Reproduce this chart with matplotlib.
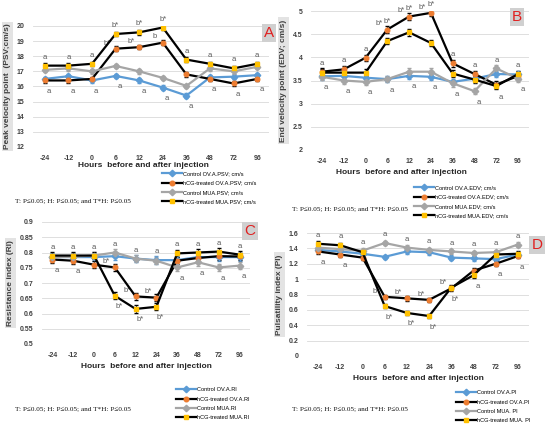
import matplotlib
matplotlib.use("Agg")
from matplotlib import pyplot as plt
from matplotlib.lines import Line2D

plt.rcParams['font.family'] = ['Liberation Sans', 'DejaVu Sans']

hours = ['-24', '-12', '0', '6', '12', '24', '36', '48', '72', '96']

# Panel A - PSV (cm/s)
psv_ctrl_ova = [16.5, 16.68, 16.4, 16.7, 16.4, 15.93, 15.4, 16.6, 16.65, 16.75]
psv_hcg_ova = [16.4, 16.4, 16.5, 18.5, 18.6, 18.9, 16.8, 16.5, 16.2, 16.5]
psv_ctrl_mua = [17.1, 17.2, 17.0, 17.36, 17.0, 16.57, 16.04, 17.2, 17.0, 17.3]
psv_hcg_mua = [17.38, 17.38, 17.5, 19.47, 19.58, 19.9, 17.78, 17.5, 17.2, 17.5]

# Panel B - EDV (cm/s)
edv_ctrl_ova = [3.59, 3.6, 3.56, 3.53, 3.6, 3.58, 3.47, 3.54, 3.64, 3.63]
edv_hcg_ova = [3.69, 3.74, 3.99, 4.6, 4.88, 4.96, 3.87, 3.64, 3.41, 3.6]
edv_ctrl_mua = [3.58, 3.5, 3.47, 3.53, 3.69, 3.69, 3.44, 3.27, 3.76, 3.54]
edv_hcg_mua = [3.67, 3.67, 3.67, 4.35, 4.54, 4.31, 3.65, 3.52, 3.38, 3.64]

# Panel C - RI
ri_ctrl_ova = [0.785, 0.785, 0.785, 0.788, 0.78, 0.775, 0.775, 0.785, 0.785, 0.785]
ri_hcg_ova = [0.777, 0.773, 0.76, 0.751, 0.656, 0.652, 0.773, 0.782, 0.788, 0.787]
ri_ctrl_mua = [0.784, 0.786, 0.79, 0.80, 0.78, 0.773, 0.751, 0.768, 0.751, 0.757]
ri_hcg_mua = [0.79, 0.79, 0.79, 0.658, 0.615, 0.622, 0.797, 0.80, 0.803, 0.793]

# Panel D - PI
pi_ctrl_ova = [1.38, 1.36, 1.33, 1.29, 1.36, 1.35, 1.28, 1.27, 1.26, 1.32]
pi_hcg_ova = [1.36, 1.32, 1.28, 0.77, 0.75, 0.73, 0.88, 1.11, 1.2, 1.3]
pi_ctrl_mua = [1.41, 1.39, 1.37, 1.47, 1.41, 1.38, 1.36, 1.34, 1.35, 1.45]
pi_hcg_mua = [1.46, 1.44, 1.35, 0.65, 0.56, 0.52, 0.89, 1.05, 1.32, 1.33]

# letters (significance)
psv_top = ['a', 'a', 'a', 'b*', 'b*', 'b*', 'a', 'a', 'a', 'a']
psv_mid = ['', '', '', 'b*', 'b*', 'b', '', '', '', '']
psv_low = ['a', 'a', 'a', 'a', 'a', 'a', 'a', 'a', 'a', 'a']
edv_top = ['a', 'a', 'a', 'b*', 'b*', 'b*', 'a', 'a', 'a', 'a']
edv_mid = ['', '', '', 'b*', 'b*', 'b*', '', '', '', '']
edv_low = ['a', 'a', 'a', 'a', 'a', 'a', 'a', 'a', 'a', 'a']
ri_top = ['a', 'a', 'a', 'a', 'a', 'a', 'a', 'a', 'a', 'a']
ri_mid = ['', '', '', 'b*', 'b*', 'b*', '', '', '', '']
ri_low = ['a', 'a', '', 'b*', 'b*', 'b*', 'a', 'a', 'a', 'a']
pi_top = ['a', 'a', 'a', 'a', 'a', 'a', 'a', 'a', 'a', 'a']
pi_mid = ['', '', '', 'b*', 'b*', 'b*', 'b*', '', '', '']
pi_low = ['a', 'a', '', 'b*', 'b*', 'b*', 'b*', 'a', 'a', 'a']

stats = "T: P\u22640.05; H: P\u22640.05; and T*H: P\u22640.05"

BLUE = '#5B9BD5'
ORANGE = '#ED7D31'
GREY = '#A5A5A5'
YELLOW = '#FFC000'
LETTER = '#595959'

W, H = 550.0, 434.0
fig = plt.figure(figsize=(5.5, 4.34), dpi=100)


def make_panel(box, series, names, err, ylim, yticks, ylabel, tag, tagpos,
               letters, legpos, statpos, xlabpos):
    x0, y0, x1, y1 = box
    ax = fig.add_axes([x0 / W, 1 - y1 / H, (x1 - x0) / W, (y1 - y0) / H])
    x = range(len(hours))
    styles = [(BLUE, BLUE, 'D'), ('black', ORANGE, 'o'),
              (GREY, GREY, 'D'), ('black', YELLOW, 's')]
    for vals, (lc, mc, mk) in zip(series, styles):
        ax.errorbar(x, vals, yerr=err, color=lc, lw=1.6, marker=mk, ms=3.3,
                    mfc=mc, mec=mc, ecolor=lc, elinewidth=0.5, capsize=1.2,
                    zorder=3)
    top, mid, low = letters
    for i in x:
        hi = max(s[i] for s in series)
        lo = min(s[i] for s in series)
        ax.annotate(top[i], (i, hi), xytext=(0, 5), textcoords='offset points',
                    ha='center', fontsize=5.5, color=LETTER)
        ax.annotate(mid[i], (i, series[1][i]), xytext=(-6, 3),
                    textcoords='offset points', ha='center', fontsize=5.5,
                    color=LETTER)
        ax.annotate(low[i], (i, lo), xytext=(3, -9), textcoords='offset points',
                    ha='center', fontsize=5.5, color=LETTER)
    ax.set_xlim(-0.5, len(hours) - 0.5)
    ax.set_ylim(*ylim)
    ax.set_xticks(list(x))
    ax.set_xticklabels(hours, fontsize=5, fontweight='bold', color='#404040')
    ax.set_yticks(yticks)
    ax.set_yticklabels([('%g' % t) for t in yticks], fontsize=5,
                       fontweight='bold', color='#404040')
    ax.tick_params(length=0, pad=6)
    ax.grid(axis='y', color='#D9D9D9', lw=0.6)
    ax.set_axisbelow(True)
    for s in ax.spines.values():
        s.set_visible(False)
    ax.set_ylabel(ylabel, fontsize=6, fontweight='bold', color='#404040',
                  labelpad=4,
                  bbox=dict(facecolor='#E3E3E3', edgecolor='none', pad=1.5))
    fig.text(xlabpos[0] / W, 1 - xlabpos[1] / H,
             'Hours  before and after injection', fontsize=6,
             fontweight='bold', color='#262626', ha='center', va='center')
    fig.text(tagpos[0] / W, 1 - tagpos[1] / H, tag, color='#E02020',
             fontsize=11, ha='center', va='center',
             bbox=dict(facecolor='#D0D0D0', edgecolor='none', pad=1.5))
    handles = [Line2D([], [], color=lc, lw=1.6, marker=mk, ms=3.3, mfc=mc,
                      mec=mc) for (lc, mc, mk) in styles]
    fig.legend(handles, names, loc='upper left',
               bbox_to_anchor=(legpos[0] / W, 1 - legpos[1] / H),
               frameon=False, fontsize=4.1, handlelength=3.4,
               labelspacing=0.75, borderaxespad=0, handletextpad=0.2)
    fig.text(statpos[0] / W, 1 - statpos[1] / H, stats, fontsize=5.2,
             family='Liberation Serif', va='center', color='#111111')
    return ax


make_panel((33, 26, 269, 147),
           [psv_ctrl_ova, psv_hcg_ova, psv_ctrl_mua, psv_hcg_mua],
           ['Control OV.A.PSV; cm/s', 'hCG-treated OV.A.PSV; cm/s',
            'Control MUA.PSV; cm/s', 'hCG-treated MUA.PSV; cm/s'],
           0.15, (12, 20), list(range(12, 21)),
           'Peak velocity point  (PSV;cm/s)', 'A', (269, 33),
           (psv_top, psv_mid, psv_low), (160, 169), (15, 202), (143, 165))

make_panel((311, 11, 529, 150),
           [edv_ctrl_ova, edv_hcg_ova, edv_ctrl_mua, edv_hcg_mua],
           ['Control OV.A.EDV; cm/s', 'hCG-treated OV.A.EDV; cm/s',
            'Control MUA.EDV; cm/s', 'hCG-treated MUA.EDV; cm/s'],
           0.07, (2, 5), [2, 2.5, 3, 3.5, 4, 4.5, 5],
           'End velocity point (EDV; cm/s)', 'B', (517, 17),
           (edv_top, edv_mid, edv_low), (412, 183), (292, 210), (401, 173))

make_panel((42, 222, 250, 344),
           [ri_ctrl_ova, ri_hcg_ova, ri_ctrl_mua, ri_hcg_mua],
           ['Control OV.A.RI', 'hCG-treated OV.A.RI',
            'Control MUA.RI', 'hCG-treated MUA.RI'],
           0.012, (0.5, 0.9), [0.5, 0.55, 0.6, 0.65, 0.7, 0.75, 0.8, 0.85, 0.9],
           'Resistance index (RI)', 'C', (250, 231),
           (ri_top, ri_mid, ri_low), (174, 385), (15, 410), (146, 366))

make_panel((307, 233, 529, 356),
           [pi_ctrl_ova, pi_hcg_ova, pi_ctrl_mua, pi_hcg_mua],
           ['Control OV.A.PI', 'hCG-treated OV.A.PI',
            'Control MUA. PI', 'hCG-treated MUA. PI'],
           0.03, (0, 1.6), [0, 0.2, 0.4, 0.6, 0.8, 1, 1.2, 1.4, 1.6],
           'Pulsatility index (PI)', 'D', (537, 245),
           (pi_top, pi_mid, pi_low), (454, 388), (292, 410), (418, 379))

fig.savefig('out.png', dpi=100)
